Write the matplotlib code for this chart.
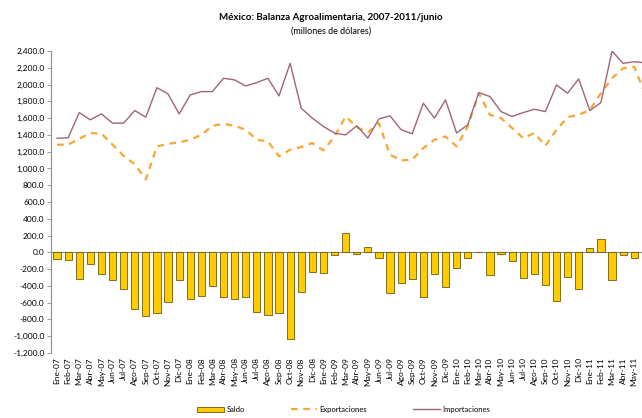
import matplotlib.pyplot as plt
import numpy as np

# monthly labels Ene-07 .. Jun-11
meses = ["Ene", "Feb", "Mar", "Abr", "May", "Jun", "Jul", "Ago", "Sep", "Oct", "Nov", "Dic"]
etiquetas = [f"{m}-{a:02d}" for a in range(7, 12) for m in meses][:54]

importaciones = [1360, 1365, 1665, 1580, 1650, 1540, 1540, 1690, 1612, 1963,
                 1888, 1650, 1876, 1916, 1916, 2075, 2055, 1983, 2023, 2075,
                 1865, 2253, 1718, 1600, 1500, 1422, 1400, 1508, 1362, 1591,
                 1627, 1461, 1413, 1778, 1600, 1817, 1422, 1520, 1904, 1857,
                 1678, 1619, 1666, 1706, 1678, 1995, 1897, 2067, 1690, 1785,
                 2400, 2253, 2272, 2260]

exportaciones = [1283, 1283, 1354, 1422, 1415, 1283, 1150, 1050, 870, 1262,
                 1294, 1310, 1342, 1401, 1508, 1532, 1508, 1461, 1342, 1322,
                 1144, 1223, 1255, 1303, 1215, 1381, 1619, 1493, 1429, 1540,
                 1164, 1096, 1105, 1243, 1342, 1381, 1262, 1500, 1897, 1639,
                 1600, 1481, 1362, 1422, 1271, 1461, 1612, 1639, 1698, 1897,
                 2075, 2193, 2213, 1880]

saldo = [-78, -91, -313, -143, -261, -333, -439, -677, -756, -728,
         -598, -333, -558, -526, -400, -538, -558, -530, -717, -744,
         -728, -1033, -467, -234, -250, -32, 226, -24, 67, -63,
         -479, -368, -313, -538, -253, -412, -182, -63, 5, -273,
         -24, -103, -301, -261, -392, -586, -289, -439, 55, 154,
         -329, -36, -63, -380]

plt.rcParams['font.family'] = ['Lato', 'DejaVu Sans']

fig = plt.figure(figsize=(6.42, 4.18), dpi=100)
ax = fig.add_axes([0.0802, 0.1555, 0.9336, 0.7225])

x = np.arange(len(etiquetas))
b = ax.bar(x, saldo, width=0.65, color="#FFCC00", edgecolor="#6B5A10", linewidth=0.6,
           label="Saldo", zorder=2)
le, = ax.plot(x, exportaciones, color="#F5A833", lw=1.6, ls=(0, (3, 2.5)),
              label="Exportaciones", zorder=3)
li, = ax.plot(x, importaciones, color="#A0637D", lw=1.0, label="Importaciones", zorder=3)

ax.axhline(0, color="#8C8C8C", lw=0.8, zorder=1)

ax.set_xlim(-0.5, len(etiquetas) - 0.5)
ax.set_ylim(-1200, 2400)
ax.set_yticks(np.arange(-1200, 2401, 200))
ax.yaxis.set_major_formatter(plt.FuncFormatter(lambda v, p: f"{v:,.1f}"))
# last month's label falls past the right edge of the picture
ax.set_xticks(x[:-1])
ax.set_xticklabels(etiquetas[:-1], rotation=90, fontsize=6)
ax.tick_params(axis="x", length=0, pad=3)
ax.tick_params(axis="y", labelsize=6, length=3, width=0.6, color="#8C8C8C", pad=2)

for s in ["top", "right", "bottom"]:
    ax.spines[s].set_visible(False)
ax.spines["left"].set_color("#8C8C8C")
ax.spines["left"].set_linewidth(0.8)

fig.text(0.515, 0.958, "México: Balanza Agroalimentaria, 2007-2011/junio",
         ha="center", va="center", fontsize=7, fontweight="bold")
fig.text(0.515, 0.925, "(millones de dólares)", ha="center", va="center", fontsize=6.5)

fig.legend(handles=[b, le, li], loc="center", bbox_to_anchor=(0.535, 0.02), ncol=3,
           frameon=False, fontsize=5.5, handlelength=3.5, columnspacing=6,
           handletextpad=0.3)

fig.savefig("out.png", dpi=100)
